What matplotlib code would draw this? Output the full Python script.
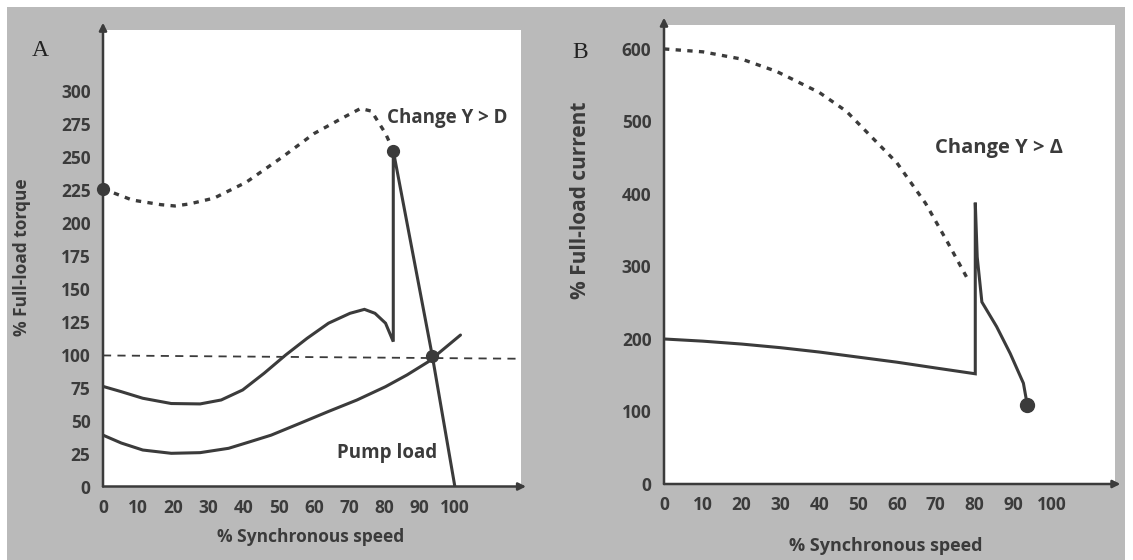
import matplotlib
matplotlib.use("Agg")
from matplotlib import pyplot as plt
from matplotlib.patches import Rectangle

# Panel A: torque vs speed during a star-delta start
a_dashed_speed = [0, 8.3, 16.4, 20.4, 24.5, 31.6, 40.7, 50.9, 60.0, 68.2, 73.2, 76.3, 80.3, 82.5]
a_dashed_torque = [226, 217.5, 214, 213, 214.5, 219, 231, 250, 268, 280, 287, 285, 268, 255]

a_motor_speed = [0, 5.2, 11.3, 19.4, 27.6, 33.6, 39.7, 45.8, 51.9, 58.0, 64.1, 70.2, 74.3,
                 77.3, 80.3, 82.5, 82.5, 93.6, 100]
a_motor_torque = [76, 72, 67, 63, 62.7, 65.7, 73.3, 86, 99.8, 112.5, 124, 131.5, 134.5,
                  131.5, 124, 110, 255, 99, 0]

pump_speed = [0, 5.2, 11.3, 19.4, 27.6, 35.7, 41.8, 47.8, 56.0, 64.1, 72.2, 80.3, 86.4, 92.5, 101.6]
pump_torque = [39, 33, 27.7, 25.2, 25.7, 29, 34, 39, 48, 57, 65.7, 75.8, 84.7, 94.8, 115]

ref_speed = [0, 119]
ref_torque = [99.5, 97]

a_dots_speed = [0, 82.5, 93.6]
a_dots_torque = [226, 255, 99]

a_yticks = [0, 25, 50, 75, 100, 125, 150, 175, 200, 225, 250, 275, 300]

# Panel B: current vs speed
b_dashed_speed = [0, 10, 20, 29, 40, 47, 60, 67.4, 73, 78]
b_dashed_current = [600, 596, 586, 569, 540, 514, 443, 387, 334, 285]

b_solid_speed = [0, 10, 20, 30, 40, 50, 60, 70, 80.2, 80.2, 80.7, 81.9, 85.7, 89.2, 92.6, 93.6]
b_solid_current = [200, 197, 193, 188, 182, 175, 168, 160, 152, 388, 313, 251, 217, 180, 139, 109]

b_yticks = [0, 100, 200, 300, 400, 500, 600]
xticks = [0, 10, 20, 30, 40, 50, 60, 70, 80, 90, 100]

INK = "#3b3b3b"
FONT = ["Open Sans", "DejaVu Sans"]

W, H = 1133, 560
fig = plt.figure(figsize=(W / 100, H / 100), dpi=100, facecolor="white")

# grey paper behind both panels
fig.patches.append(Rectangle((7 / W, 0), (1125 - 7) / W, (H - 7) / H,
                             transform=fig.transFigure, facecolor="#bababa",
                             edgecolor="none", zorder=-5))


def px_axes(left, top, right, bottom):
    return fig.add_axes([left / W, 1 - bottom / H, (right - left) / W, (bottom - top) / H])


def style_axes(ax, xmax, ymax, yticks, ytop_frac):
    ax.set_xlim(0, xmax)
    ax.set_ylim(0, ymax)
    ax.set_facecolor("white")
    for s in ax.spines.values():
        s.set_visible(False)
    ax.set_xticks(xticks)
    ax.set_yticks(yticks)
    ax.tick_params(length=0, colors=INK, labelsize=12.5, pad=9)
    for lab in ax.get_xticklabels() + ax.get_yticklabels():
        lab.set_family(FONT)
        lab.set_fontweight("bold")
        lab.set_color(INK)
    arrow = dict(arrowstyle="-|>", color=INK, lw=1.8, mutation_scale=11,
                 shrinkA=0, shrinkB=0)
    ax.annotate("", xy=(0, ytop_frac), xytext=(0, 0), xycoords="axes fraction",
                arrowprops=arrow, annotation_clip=False)
    ax.annotate("", xy=(1.012, 0), xytext=(0, 0), xycoords="axes fraction",
                arrowprops=arrow, annotation_clip=False)


# ---- Panel A ----
axA = px_axes(103, 30, 521, 486.5)
style_axes(axA, 118.8, 346.6, a_yticks, 1.016)
axA.plot(ref_speed, ref_torque, color=INK, lw=1.3, ls=(0, (4.5, 3.5)), clip_on=False)
axA.plot(pump_speed, pump_torque, color=INK, lw=2.2, solid_capstyle="round")
axA.plot(a_motor_speed, a_motor_torque, color=INK, lw=2.2, solid_joinstyle="miter")
axA.plot(a_dashed_speed, a_dashed_torque, color=INK, lw=2.4, ls=(0, (1.6, 1.9)))
axA.plot(a_dots_speed, a_dots_torque, "o", color=INK, ms=8.5, clip_on=False)
axA.text(80.7, 280, "Change Y > D", family=FONT, fontweight="bold", fontsize=13.5,
         color=INK, ha="left", va="center")
axA.text(66.6, 25.5, "Pump load", family=FONT, fontweight="bold", fontsize=13.5,
         color=INK, ha="left", va="center")

# ---- Panel B ----
axB = px_axes(664, 25, 1115, 484)
style_axes(axB, 116.2, 633, b_yticks, 1.016)
axB.plot(b_dashed_speed, b_dashed_current, color=INK, lw=2.4, ls=(0, (1.6, 1.9)))
axB.plot(b_solid_speed, b_solid_current, color=INK, lw=2.2, solid_joinstyle="miter")
axB.plot(b_solid_speed[-1], b_solid_current[-1], "o", color=INK, ms=10)
axB.text(69.8, 463, "Change Y > Δ", family=FONT, fontweight="bold", fontsize=14.5,
         color=INK, ha="left", va="center")

# axis titles and panel letters
lab = dict(family=FONT, fontweight="bold", color=INK, ha="center", va="center")
fig.text(311 / W, 1 - 537 / H, "% Synchronous speed", fontsize=12.5, **lab)
fig.text(886 / W, 1 - 546 / H, "% Synchronous speed", fontsize=13, **lab)
fig.text(22 / W, 1 - 257 / H, "% Full-load torque", rotation=90, fontsize=12.5, **lab)
fig.text(580 / W, 1 - 200 / H, "% Full-load current", rotation=90, fontsize=15, **lab)
fig.text(40 / W, 1 - 50 / H, "A", family="Liberation Serif", fontsize=17, color="#222222",
         ha="center", va="center")
fig.text(580 / W, 1 - 52 / H, "B", family="Liberation Serif", fontsize=17, color="#222222",
         ha="center", va="center")

fig.savefig("out.png", dpi=100, facecolor=fig.get_facecolor())
